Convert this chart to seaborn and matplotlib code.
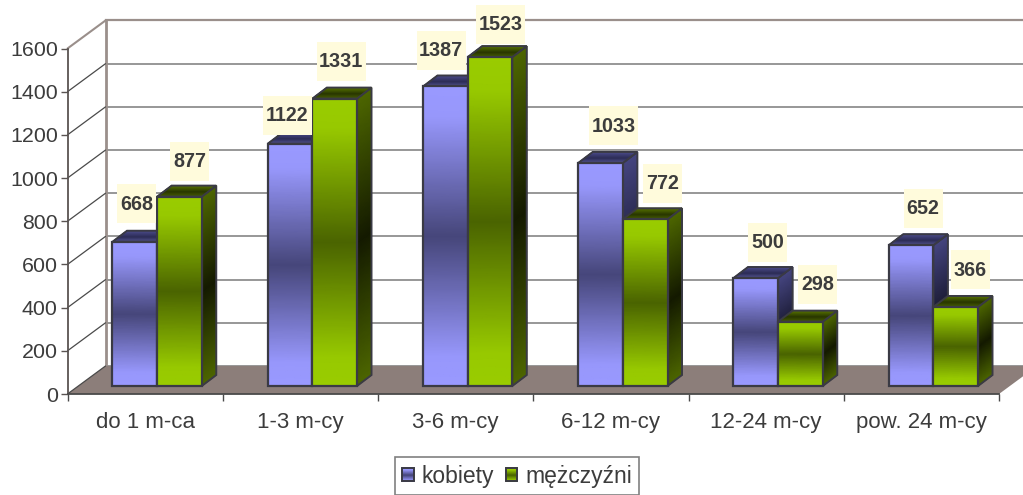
import numpy as np
import pandas as pd
import matplotlib
matplotlib.use("Agg")
import matplotlib.pyplot as plt
import seaborn as sns
from matplotlib.colors import LinearSegmentedColormap as LSC
from matplotlib.patches import Polygon, Rectangle
from matplotlib.transforms import IdentityTransform

categories = ["do 1 m-ca", "1-3 m-cy", "3-6 m-cy", "6-12 m-cy", "12-24 m-cy", "pow. 24 m-cy"]
kobiety = [668, 1122, 1387, 1033, 500, 652]
mezczyzni = [877, 1331, 1523, 772, 298, 366]
series_names = ["kobiety", "mężczyźni"]
y_ticks = [0, 200, 400, 600, 800, 1000, 1200, 1400, 1600]

# label nudges in pixels from the centre of the bar's top front edge
label_dx = [[2, -2.5, -4, 13, 12, 12], [10, 6.5, 10.5, 17, 17, 14.5]]
label_dy = [[38, 28.5, 36.3, 37, 36, 37], [35.5, 37.4, 33, 36, 37.6, 37]]

W, H = 1023, 495
sns.set_theme(style="white")
plt.rcParams["font.family"] = ["Liberation Sans", "DejaVu Sans"]
TXT = "#3c3c3c"
fig = plt.figure(figsize=(W / 100, H / 100), dpi=100, facecolor="white")

L, R, Y0, Y1 = 67.5, 999.0, 394.0, 48.5      # front plane, px from top-left
DBX, DBY = 38, 28                             # depth of the back wall
BX, BY = 12, 8                                # depth of the bar plane
SX, SY = 14.5, 11                             # depth of a bar


def add_axes(dx, dy, **kw):
    return fig.add_axes([(L + dx) / W, (H - Y0 + dy) / H, (R - L) / W, (Y0 - Y1) / H], **kw)


back = add_axes(DBX, DBY, zorder=0)
ax = add_axes(0, 0, zorder=1)
bax = add_axes(BX, BY, zorder=2)
for a in (back, ax, bax):
    a.set_xlim(-0.5, 5.5)
    a.set_ylim(0, 1600)
    a.patch.set_alpha(0)
back.patch.set_alpha(1)
back.patch.set_facecolor("white")

# back wall
back.set_yticks(y_ticks)
back.set_xticks([])
back.tick_params(left=False, labelleft=False)
back.grid(axis="y", color="#858585", lw=1.2)
for s in ("right", "bottom"):
    back.spines[s].set_visible(False)
back.spines["left"].set(color="#9a8f8b", lw=2)
back.spines["top"].set(color="#9a8f8b", lw=1.6)

# front axes
ax.set_yticks(y_ticks)
ax.set_xticks(range(6))
ax.set_xticklabels(categories)
ax.set_xticks(np.arange(-0.5, 6), minor=True)
ax.tick_params(axis="x", which="major", length=0, pad=13, labelsize=16, labelcolor=TXT)
ax.tick_params(axis="x", which="minor", length=5, width=1, color="#4a4a4a", bottom=True)
ax.tick_params(axis="y", length=5, width=1, color="#5a5452", left=True, pad=2, labelsize=15.4, labelcolor=TXT)
for s in ("right", "top"):
    ax.spines[s].set_visible(False)
ax.spines["left"].set(color="#5a5452", lw=1.3)
ax.spines["bottom"].set(color="#4a4a4a", lw=1.3)
I = IdentityTransform()


def px(a, x, y):
    return a.transData.transform((x, y))


for t in y_ticks:
    p = px(ax, -0.5, t)
    top = t == y_ticks[-1]
    ax.plot([p[0], p[0] + DBX], [p[1], p[1] + DBY], transform=I, clip_on=False,
            color="#9a8f8b" if top else "#4a4a4a", lw=1.5 if top else 0.9, zorder=1)
ax.set_xlim(-0.5, 5.5)
ax.set_ylim(0, 1600)
a0, a1 = px(ax, -0.5, 0), px(ax, 5.5, 0)
ax.add_patch(Polygon([a0, a0 + (DBX, DBY), a1 + (DBX, DBY), a1], closed=True, transform=I,
                     facecolor="#8c7e7a", edgecolor="none", clip_on=False, zorder=0.5))

# bars
df = pd.DataFrame({
    "pos": list(range(6)) * 2,
    "val": kobiety + mezczyzni,
    "ser": [series_names[0]] * 6 + [series_names[1]] * 6,
})
sns.barplot(data=df, x="pos", y="val", hue="ser", hue_order=series_names, native_scale=True,
            palette=["#6a6aae", "#739900"], width=0.575, gap=0, ax=bax, saturation=1,
            edgecolor="#3a3a44", linewidth=1.6)
bax.set_xlim(-0.5, 5.5)
bax.set_ylim(0, 1600)
bax.set_xlabel("")
bax.set_ylabel("")
for s in bax.spines.values():
    s.set_visible(False)
bax.tick_params(left=False, bottom=False, labelleft=False, labelbottom=False)

styles = [
    dict(front=LSC.from_list("f", [(0, "#9999ff"), (0.1, "#9797fb"), (0.5, "#46467a"), (0.9, "#9797fb"), (1, "#9999ff")]),
         side=LSC.from_list("s", ["#454580", "#191930", "#454580"]),
         top=LSC.from_list("t", ["#5a5a9a", "#2e2e58", "#4a4a88"])),
    dict(front=LSC.from_list("f", [(0, "#99cc00"), (0.1, "#97c900"), (0.5, "#4a6300"), (0.9, "#97c900"), (1, "#99cc00")]),
         side=LSC.from_list("s", ["#4d6600", "#141a00", "#4d6600"]),
         top=LSC.from_list("t", ["#4d6600", "#2a3800", "#557000"])),
]
EDGE = "#3a3a44"


def mesh(a, c0, c1, c2, c3, cmap, z):
    """Gradient running from edge c0-c1 to edge c3-c2."""
    s = np.linspace(0, 1, 41)[:, None]
    u = np.array([0, 1.0])[None, :]
    c0, c1, c2, c3 = map(np.asarray, (c0, c1, c2, c3))
    l = c0 + s * (c3 - c0)
    r = c1 + s * (c2 - c1)
    X = l[:, 0:1] * (1 - u) + r[:, 0:1] * u
    Y = l[:, 1:2] * (1 - u) + r[:, 1:2] * u
    C = np.repeat(s, 2, axis=1)
    a.pcolormesh(X, Y, C, shading="gouraud", cmap=cmap, vmin=0, vmax=1, transform=I,
                 clip_on=False, zorder=z, antialiased=False)


def outline(a, pts, z):
    a.add_patch(Polygon(pts, closed=True, transform=I, facecolor="none", edgecolor=EDGE,
                        lw=1.4, clip_on=False, zorder=z))


fig.canvas.draw()
d = np.array([SX, SY])
values = [kobiety, mezczyzni]
for si, cont in enumerate(bax.containers):
    st = styles[si]
    for ci, p in enumerate(cont):
        z = 3 + ci * 10 + si * 4
        x0, x1 = p.get_x(), p.get_x() + p.get_width()
        h = p.get_height()
        bl, br = px(bax, x0, 0), px(bax, x1, 0)
        tl, tr = px(bax, x0, h), px(bax, x1, h)
        mesh(bax, br, br + d, tr + d, tr, st["side"], z)
        outline(bax, [br, br + d, tr + d, tr], z + 0.1)
        mesh(bax, tl, tr, tr + d, tl + d, st["top"], z + 0.2)
        outline(bax, [tl, tr, tr + d, tl + d], z + 0.3)
        mesh(bax, bl, br, tr, tl, st["front"], z + 1)
        p.set_facecolor("none")
        p.set_zorder(z + 2)
        p.set_clip_on(False)
        cx, cy = px(bax, x0 + p.get_width() / 2, h)
        lx, ly = cx + label_dx[si][ci], cy + label_dy[si][ci]
        txt = str(values[si][ci])
        bw = 49 if len(txt) == 4 else 39
        bax.add_patch(Rectangle((lx - bw / 2, ly - 19.5), bw, 39, transform=I, facecolor="#fffbdc",
                                edgecolor="none", clip_on=False, zorder=100))
        bax.text(lx, ly - 0.5, txt, transform=I, ha="center", va="center", fontsize=14.2,
                 fontweight="bold", color=TXT, clip_on=False, zorder=101)

# legend
handles, labels = bax.get_legend_handles_labels()
leg = bax.legend(handles, labels, ncol=2, frameon=True, fancybox=False, edgecolor="#808080",
                 framealpha=1, facecolor="white", fontsize=16.5, labelcolor=TXT,
                 handlelength=0.5, handleheight=0.5, handletextpad=0.35, columnspacing=0.5,
                 borderpad=0.32, borderaxespad=0, loc="lower left",
                 bbox_to_anchor=(395 / W, 0.0), bbox_transform=fig.transFigure)
leg.set_zorder(200)
leg.get_frame().set_linewidth(1.2)
fig.canvas.draw()
for hnd, st in zip(leg.legend_handles, styles):
    e = hnd.get_window_extent()
    hnd.set_alpha(0)
    x0, x1, y0, y1 = e.x0, e.x1, e.y0, e.y1
    mesh(bax, (x0, y0), (x1, y0), (x1, y1), (x0, y1), st["front"], 201)
    outline(bax, [(x0, y0), (x1, y0), (x1, y1), (x0, y1)], 202)

fig.savefig("out.png", dpi=100, facecolor="white")
